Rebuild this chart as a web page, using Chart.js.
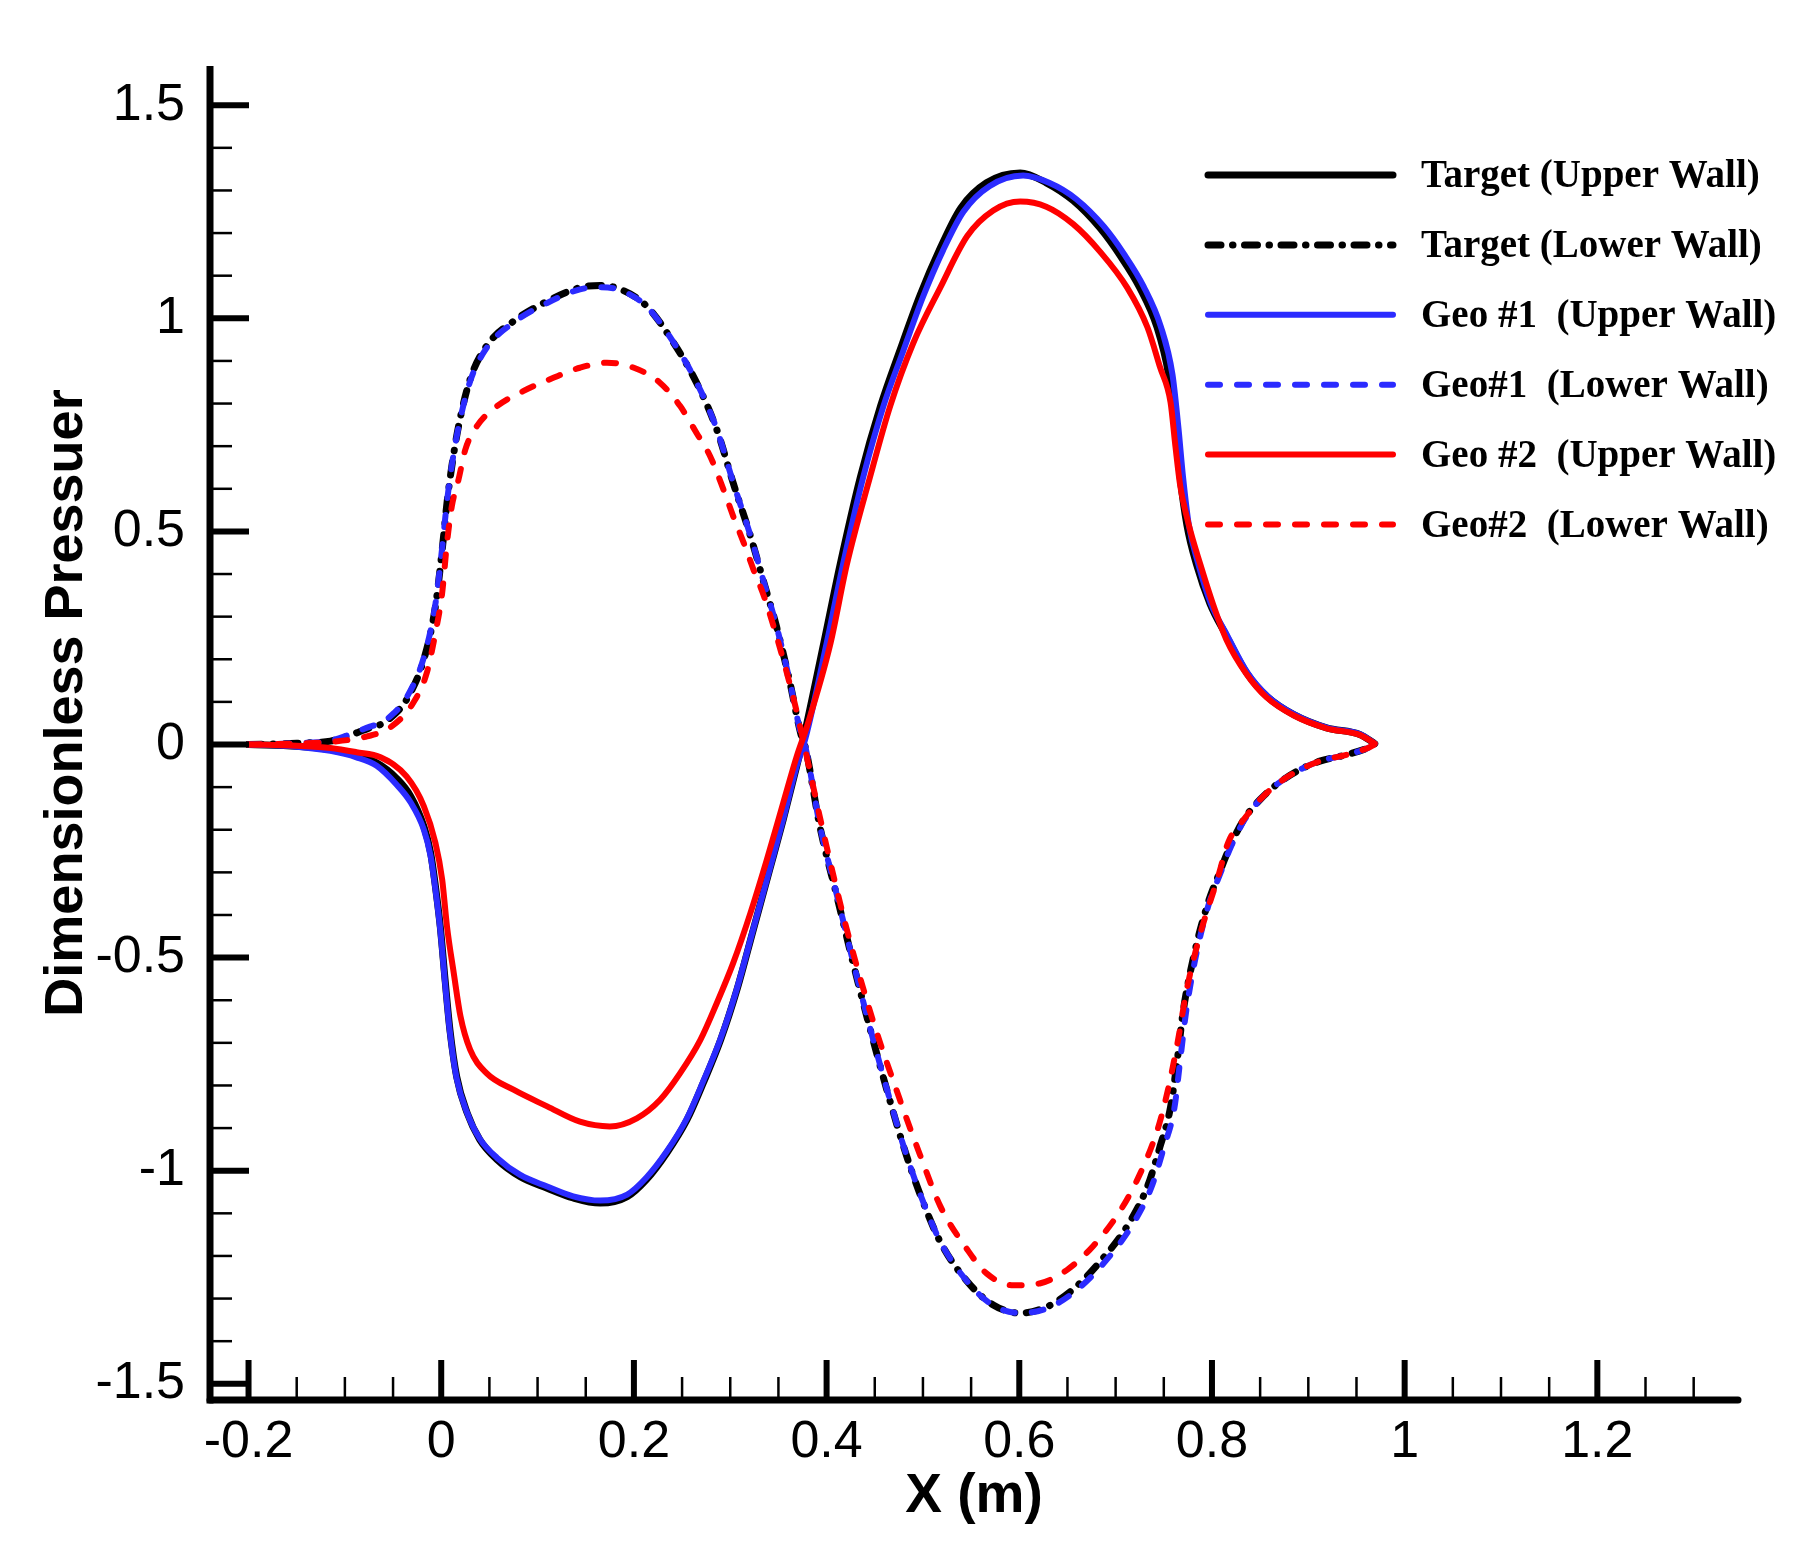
<!DOCTYPE html>
<html>
<head>
<meta charset="utf-8">
<script src="https://cdn.jsdelivr.net/npm/chart.js@4.4.1/dist/chart.umd.min.js"></script>
<style>
html,body{margin:0;padding:0;background:#fff;}
#wrap{width:1813px;height:1565px;position:relative;}
</style>
</head>
<body>
<div id="wrap"><canvas id="c" width="1813" height="1565"></canvas></div>
<script>
// ---------------- data ----------------
const xTickValues = [-0.2, 0, 0.2, 0.4, 0.6, 0.8, 1, 1.2];
const xTickLabels = ['-0.2', '0', '0.2', '0.4', '0.6', '0.8', '1', '1.2'];
const yTickValues = [-1.5, -1, -0.5, 0, 0.5, 1, 1.5];
const yTickLabels = ['-1.5', '-1', '-0.5', '0', '0.5', '1', '1.5'];

const seriesLabels = [
  'Target (Upper Wall)',
  'Target (Lower Wall)',
  'Geo #1  (Upper Wall)',
  'Geo#1  (Lower Wall)',
  'Geo #2  (Upper Wall)',
  'Geo#2  (Lower Wall)'
];

const targetUpperX = [-0.2,-0.15,-0.115,-0.088,-0.067,-0.046,-0.032,-0.018,-0.011,-0.006,-0.001,0.004,0.009,0.016,0.027,0.04,0.058,0.082,0.11,0.137,0.165,0.193,0.213,0.234,0.255,0.272,0.29,0.307,0.324,0.341,0.355,0.369,0.376,0.397,0.414,0.435,0.456,0.476,0.497,0.518,0.539,0.566,0.601,0.628,0.656,0.684,0.705,0.725,0.743,0.755,0.762,0.767,0.774,0.784,0.798,0.815,0.836,0.857,0.885,0.919,0.954,0.969];
const targetUpperY = [0,-0.004,-0.012,-0.026,-0.043,-0.08,-0.12,-0.192,-0.254,-0.333,-0.427,-0.552,-0.669,-0.779,-0.865,-0.927,-0.974,-1.014,-1.041,-1.064,-1.076,-1.061,-1.021,-0.959,-0.881,-0.794,-0.693,-0.575,-0.434,-0.293,-0.176,-0.051,0.014,0.237,0.422,0.627,0.794,0.924,1.054,1.165,1.258,1.318,1.341,1.318,1.276,1.211,1.146,1.072,0.979,0.868,0.747,0.627,0.515,0.422,0.33,0.255,0.168,0.113,0.07,0.039,0.023,0.002];

const targetLowerX = [-0.2,-0.15,-0.115,-0.098,-0.074,-0.063,-0.049,-0.036,-0.018,-0.006,0.001,0.006,0.011,0.018,0.03,0.047,0.075,0.11,0.144,0.165,0.186,0.213,0.241,0.265,0.286,0.303,0.321,0.335,0.348,0.362,0.373,0.378,0.393,0.411,0.428,0.445,0.463,0.48,0.497,0.518,0.546,0.573,0.601,0.628,0.656,0.684,0.712,0.733,0.746,0.757,0.764,0.77,0.781,0.795,0.809,0.819,0.833,0.85,0.867,0.888,0.912,0.94,0.962,0.969];
const targetLowerY = [0,0.003,0.008,0.019,0.039,0.047,0.07,0.105,0.2,0.324,0.457,0.567,0.653,0.747,0.857,0.935,0.993,1.04,1.072,1.077,1.068,1.029,0.943,0.849,0.739,0.614,0.489,0.379,0.277,0.145,0.027,-0.007,-0.192,-0.359,-0.517,-0.666,-0.814,-0.944,-1.055,-1.167,-1.26,-1.315,-1.334,-1.32,-1.278,-1.213,-1.13,-1.037,-0.944,-0.851,-0.74,-0.628,-0.498,-0.378,-0.294,-0.238,-0.176,-0.129,-0.094,-0.063,-0.039,-0.024,-0.008,0];

const geo1UpperX = [-0.2,-0.15,-0.115,-0.088,-0.067,-0.046,-0.032,-0.018,-0.011,-0.006,-0.001,0.004,0.009,0.016,0.027,0.04,0.058,0.082,0.11,0.137,0.165,0.193,0.213,0.234,0.255,0.272,0.29,0.307,0.324,0.341,0.355,0.369,0.378,0.4,0.417,0.438,0.459,0.479,0.5,0.521,0.542,0.569,0.604,0.631,0.659,0.688,0.709,0.729,0.747,0.759,0.765,0.77,0.776,0.786,0.799,0.816,0.837,0.858,0.886,0.92,0.955,0.969];
const geo1UpperY = [0,-0.005,-0.015,-0.03,-0.05,-0.095,-0.135,-0.2,-0.262,-0.34,-0.435,-0.56,-0.675,-0.783,-0.865,-0.925,-0.97,-1.01,-1.037,-1.06,-1.07,-1.056,-1.016,-0.955,-0.877,-0.79,-0.69,-0.572,-0.432,-0.292,-0.175,-0.05,0.014,0.237,0.422,0.627,0.794,0.92,1.05,1.16,1.25,1.31,1.335,1.318,1.28,1.215,1.15,1.075,0.98,0.868,0.747,0.627,0.515,0.422,0.33,0.255,0.168,0.113,0.07,0.039,0.023,0.002];

const geo1LowerX = [-0.2,-0.15,-0.115,-0.098,-0.074,-0.063,-0.049,-0.036,-0.018,-0.006,0.001,0.006,0.011,0.018,0.03,0.047,0.075,0.11,0.144,0.165,0.186,0.213,0.241,0.265,0.286,0.303,0.321,0.335,0.348,0.362,0.373,0.378,0.393,0.411,0.428,0.445,0.463,0.48,0.497,0.518,0.546,0.573,0.601,0.63,0.659,0.688,0.716,0.737,0.75,0.761,0.767,0.773,0.783,0.796,0.81,0.82,0.834,0.85,0.867,0.888,0.912,0.94,0.962,0.969];
const geo1LowerY = [0,0.003,0.009,0.021,0.042,0.05,0.074,0.11,0.205,0.33,0.462,0.57,0.655,0.745,0.852,0.93,0.99,1.036,1.068,1.073,1.066,1.028,0.944,0.85,0.74,0.615,0.49,0.38,0.278,0.146,0.028,-0.006,-0.19,-0.356,-0.514,-0.664,-0.812,-0.943,-1.054,-1.166,-1.26,-1.316,-1.334,-1.322,-1.281,-1.216,-1.132,-1.04,-0.946,-0.853,-0.742,-0.63,-0.5,-0.38,-0.295,-0.238,-0.176,-0.129,-0.094,-0.063,-0.039,-0.024,-0.008,0];

const geo2UpperX = [-0.2,-0.15,-0.115,-0.088,-0.063,-0.036,-0.018,-0.006,0.001,0.006,0.013,0.02,0.03,0.047,0.075,0.11,0.144,0.175,0.203,0.227,0.248,0.269,0.286,0.303,0.321,0.338,0.355,0.369,0.38,0.404,0.421,0.445,0.466,0.49,0.518,0.546,0.573,0.601,0.628,0.656,0.684,0.712,0.733,0.746,0.757,0.762,0.767,0.776,0.788,0.801,0.815,0.836,0.857,0.885,0.919,0.954,0.969];
const geo2UpperY = [0,-0.003,-0.008,-0.018,-0.03,-0.075,-0.145,-0.231,-0.317,-0.427,-0.536,-0.638,-0.716,-0.771,-0.81,-0.849,-0.885,-0.896,-0.877,-0.834,-0.771,-0.693,-0.607,-0.513,-0.395,-0.27,-0.137,-0.028,0.045,0.237,0.422,0.627,0.794,0.942,1.072,1.193,1.253,1.274,1.262,1.221,1.156,1.072,0.979,0.886,0.803,0.701,0.608,0.515,0.422,0.33,0.246,0.165,0.11,0.068,0.038,0.022,0.002];

const geo2LowerX = [-0.2,-0.15,-0.115,-0.077,-0.053,-0.029,-0.015,-0.006,0.001,0.006,0.011,0.018,0.025,0.037,0.058,0.085,0.117,0.144,0.172,0.2,0.227,0.248,0.265,0.279,0.293,0.303,0.314,0.324,0.335,0.345,0.355,0.366,0.374,0.396,0.421,0.448,0.476,0.497,0.518,0.546,0.566,0.594,0.622,0.65,0.677,0.705,0.725,0.743,0.753,0.764,0.774,0.788,0.806,0.817,0.833,0.85,0.867,0.888,0.912,0.94,0.962,0.969];
const geo2LowerY = [0,0.002,0.006,0.019,0.04,0.098,0.168,0.262,0.356,0.473,0.559,0.622,0.692,0.747,0.794,0.829,0.861,0.884,0.896,0.884,0.849,0.794,0.731,0.677,0.598,0.536,0.473,0.411,0.348,0.277,0.199,0.105,0.027,-0.2,-0.434,-0.647,-0.833,-0.963,-1.083,-1.185,-1.241,-1.269,-1.264,-1.232,-1.176,-1.093,-1.009,-0.907,-0.823,-0.703,-0.573,-0.443,-0.313,-0.229,-0.176,-0.129,-0.094,-0.063,-0.039,-0.024,-0.008,0];

// ---------------- helpers ----------------
function pts(xs, ys) { return xs.map((x, i) => ({ x: x, y: ys[i] })); }

const BLUE = '#2b2bff';
const RED = '#ff0000';
const BLACK = '#000000';
const DASH_DOT = [13, 11.5, 0.5, 11.5];
const DASHED = [12, 17];

function ds(i, xs, ys, color, width, dash) {
  return {
    label: seriesLabels[i],
    data: pts(xs, ys),
    borderColor: color,
    backgroundColor: color,
    borderWidth: width,
    borderDash: dash,
    borderCapStyle: 'round',
    borderJoinStyle: 'round',
    pointRadius: 0,
    pointHoverRadius: 0,
    fill: false,
    cubicInterpolationMode: 'monotone',
    order: 10 - i
  };
}

const datasets = [
  ds(0, targetUpperX, targetUpperY, BLACK, 7, []),
  ds(1, targetLowerX, targetLowerY, BLACK, 7, DASH_DOT),
  ds(2, geo1UpperX, geo1UpperY, BLUE, 6, []),
  ds(3, geo1LowerX, geo1LowerY, BLUE, 6, DASHED),
  ds(4, geo2UpperX, geo2UpperY, RED, 6, []),
  ds(5, geo2LowerX, geo2LowerY, RED, 6, DASHED)
];

// ---------------- plugins ----------------
const tecAxes = {
  id: 'tecAxes',
  afterDraw(chart) {
    const { ctx, chartArea: ca, scales } = chart;
    const xs = scales.x, ys = scales.y;
    const line = (x1, y1, x2, y2) => { ctx.beginPath(); ctx.moveTo(x1, y1); ctx.lineTo(x2, y2); ctx.stroke(); };
    ctx.save();
    ctx.strokeStyle = '#000';
    ctx.setLineDash([]);
    // minor ticks
    ctx.lineWidth = 2.5;
    ctx.lineCap = 'butt';
    for (let k = -4; k <= 26; k++) {
      const v = k * 0.05;
      if (k % 4 === 0) continue;
      if (v < xs.min || v > xs.max) continue;
      const px = xs.getPixelForValue(v);
      line(px, ca.bottom, px, ca.bottom - 23);
    }
    for (let k = -15; k <= 15; k++) {
      if (k % 5 === 0) continue;
      const v = k * 0.1;
      const py = ys.getPixelForValue(v);
      line(ca.left, py, ca.left + 22, py);
    }
    // major ticks
    ctx.lineWidth = 6;
    xTickValues.forEach(v => { const px = xs.getPixelForValue(v); line(px, ca.bottom, px, ca.bottom - 40); });
    yTickValues.forEach(v => { const py = ys.getPixelForValue(v); line(ca.left, py, ca.left + 39, py); });
    // axis lines
    ctx.lineWidth = 7;
    ctx.lineCap = 'butt';
    line(ca.left, ca.top, ca.left, ca.bottom + 3.5);
    ctx.lineCap = 'round';
    line(ca.left, ca.bottom, ca.right, ca.bottom);
    ctx.restore();
  }
};

const tecLegend = {
  id: 'tecLegend',
  afterDraw(chart) {
    const { ctx } = chart;
    const x1 = 1208, x2 = 1393, tx = 1421, top = 175, gap = 69.9;
    ctx.save();
    chart.data.datasets.forEach((d, i) => {
      const yy = top + i * gap;
      ctx.strokeStyle = d.borderColor;
      ctx.lineWidth = d.borderWidth;
      ctx.lineCap = 'round';
      ctx.setLineDash(d.borderDash || []);
      ctx.beginPath(); ctx.moveTo(x1, yy); ctx.lineTo(x2, yy); ctx.stroke();
      ctx.setLineDash([]);
      ctx.fillStyle = '#000';
      ctx.font = 'bold 39px "Liberation Serif", "Times New Roman", serif';
      ctx.textAlign = 'left';
      ctx.textBaseline = 'alphabetic';
      ctx.fillText(d.label, tx, yy + 12);
    });
    ctx.restore();
  }
};

// ---------------- chart ----------------
const SANS = '"Liberation Sans", Arial, Helvetica, sans-serif';

new Chart(document.getElementById('c'), {
  type: 'line',
  data: { datasets: datasets },
  plugins: [tecAxes, tecLegend],
  options: {
    responsive: false,
    animation: false,
    events: [],
    layout: { padding: { left: 10, right: 75, top: 66, bottom: 10 } },
    plugins: { legend: { display: false }, tooltip: { enabled: false } },
    scales: {
      x: {
        type: 'linear',
        min: -0.24,
        max: 1.346,
        afterFit(s) { s.height = 155; },
        afterBuildTicks(s) { s.ticks = xTickValues.map(v => ({ value: v })); },
        ticks: {
          autoSkip: false,
          maxRotation: 0,
          minRotation: 0,
          padding: 11,
          color: '#000',
          font: { family: SANS, size: 52 },
          callback: (v, i) => xTickLabels[i]
        },
        grid: { display: false, drawTicks: false },
        border: { display: false },
        title: {
          display: true,
          text: 'X (m)',
          color: '#000',
          font: { family: SANS, size: 55, weight: 'bold' },
          padding: { top: 0, bottom: 25 }
        }
      },
      y: {
        type: 'linear',
        min: -1.538,
        max: 1.592,
        afterFit(s) { s.width = 200; },
        afterBuildTicks(s) { s.ticks = yTickValues.map(v => ({ value: v })); },
        ticks: {
          autoSkip: false,
          padding: 25,
          color: '#000',
          font: { family: SANS, size: 52 },
          callback: (v, i) => yTickLabels[i]
        },
        grid: { display: false, drawTicks: false },
        border: { display: false },
        title: {
          display: true,
          text: '    Dimensionless Pressuer',
          color: '#000',
          font: { family: SANS, size: 54, weight: 'bold' },
          padding: { top: 25, bottom: 0 }
        }
      }
    }
  }
});
</script>
</body>
</html>
